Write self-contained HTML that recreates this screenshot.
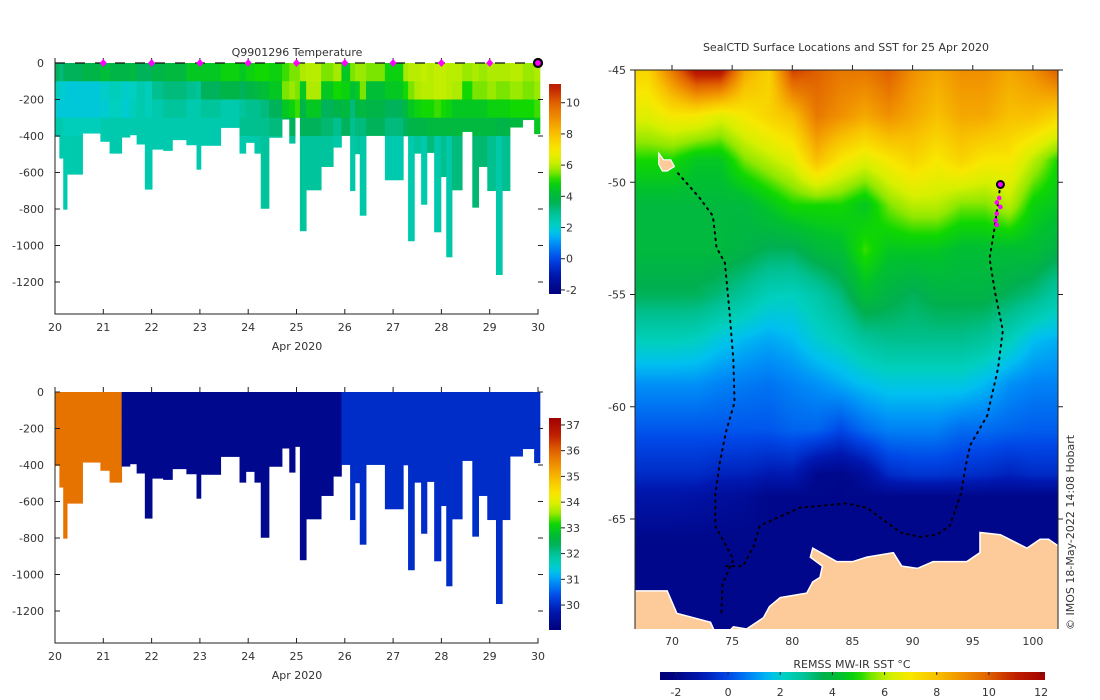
<!DOCTYPE html>
<html><head><meta charset="utf-8">
<style>
html,body{margin:0;padding:0;background:#fff;}
#wrap{position:relative;width:1100px;height:700px;overflow:hidden;}
#sstcanvas{position:absolute;left:635px;top:70px;}
svg{position:absolute;left:0;top:0;display:block;font-family:"DejaVu Sans","Liberation Sans",sans-serif;}
text{fill:#333;font-size:11px;}
</style></head>
<body>
<div id="wrap">
<canvas id="sstcanvas" width="423" height="559"></canvas>
<svg id="root" width="1100" height="700" viewBox="0 0 1100 700" xmlns="http://www.w3.org/2000/svg">
<defs>
<clipPath id="mapclip"><rect x="635" y="70" width="423" height="559"/></clipPath>
<linearGradient id="cbTop" x1="0" y1="1" x2="0" y2="0"></linearGradient>
<linearGradient id="cbBot" x1="0" y1="1" x2="0" y2="0"></linearGradient>
<linearGradient id="cbMap" x1="0" y1="0" x2="1" y2="0"></linearGradient>
</defs>
<g id="top"></g>
<g id="bot"></g>
<g id="map"></g>
</svg>
</div>
<script>
// ---------- Section data ----------
const profTime=[20.00,20.09,20.17,20.25,20.57,20.94,21.13,21.38,21.55,21.69,21.86,22.01,22.24,22.43,22.72,22.93,23.02,23.43,23.82,23.95,24.13,24.26,24.43,24.70,24.85,24.97,25.07,25.20,25.51,25.76,25.93,26.11,26.21,26.31,26.44,26.83,27.21,27.31,27.44,27.58,27.70,27.85,27.99,28.10,28.22,28.43,28.64,28.77,28.95,29.13,29.26,29.42,29.68,29.92];
const profDepth=[403,522,802,610,385,430,495,407,394,445,692,473,480,421,449,583,452,354,495,436,495,797,408,308,440,299,920,696,568,462,398,700,498,835,398,641,400,975,495,775,491,926,623,1063,696,376,791,568,700,1160,700,352,311,388];
const temp0=[3.5,3.2,3.5,3.5,3.8,4.2,3.8,3.8,4.0,3.5,3.5,3.8,4.0,4.0,4.5,4.5,4.5,4.8,4.5,4.8,5.0,5.0,4.8,5.2,5.5,5.5,5.9,6.0,5.5,5.8,4.5,5.5,5.7,5.7,5.5,4.8,5.8,6.0,6.0,6.1,6.0,6.1,6.1,6.0,6.0,5.7,5.9,5.7,5.9,5.9,5.9,6.0,5.7,5.9];
const temp1=[2.3,2.0,2.0,1.9,1.9,2.1,2.3,2.1,2.2,2.5,2.3,3.0,3.2,3.2,3.0,2.8,3.5,3.8,3.5,3.8,4.0,4.2,4.5,5.5,5.7,5.5,4.5,5.9,4.5,5.0,4.8,4.2,4.5,5.5,4.2,4.5,5.0,5.5,5.9,6.0,6.0,6.1,6.1,6.0,5.9,5.0,5.5,5.5,5.7,5.5,5.5,5.7,5.5,5.7];
const temp2=[2.0,1.9,1.9,1.9,1.9,2.0,2.2,2.0,2.3,2.5,2.3,2.5,2.8,2.8,2.5,2.5,2.8,2.5,2.8,3.0,3.0,3.2,3.5,4.5,4.8,5.2,3.8,4.5,3.5,3.8,4.0,3.2,3.8,4.0,3.8,3.5,4.0,4.5,4.8,5.0,5.0,5.2,5.0,4.8,4.5,4.5,4.5,4.5,4.8,4.8,4.8,5.0,5.0,5.2];
const temp3=[2.5,2.5,2.3,2.3,2.3,2.5,2.5,2.5,2.5,2.5,2.5,2.5,2.5,2.5,2.5,2.5,2.5,2.5,3.0,3.0,3.0,3.0,3.2,3.5,3.5,3.5,3.5,3.5,3.3,3.0,3.5,3.0,3.2,3.2,3.5,3.2,3.5,3.8,3.8,3.8,4.0,4.0,4.0,4.0,4.0,4.0,4.0,4.0,4.0,3.8,3.8,4.0,4.2,4.5];
const tempDeep=[2.5,2.5,2.5,2.5,2.5,2.5,2.5,2.5,2.5,2.5,2.5,2.5,2.5,2.5,2.5,2.5,2.5,2.5,2.5,2.5,2.6,2.8,2.8,2.8,2.8,2.8,2.8,2.8,2.8,2.6,2.8,2.6,2.8,2.6,2.8,2.5,2.8,2.5,2.8,2.5,3.2,2.6,3.0,2.6,3.2,3.3,3.3,3.3,3.0,2.6,3.0,3.2,3.5,3.5];
const salinity=[35.8,35.8,35.8,35.8,35.8,35.8,35.8,29.3,29.3,29.3,29.3,29.3,29.3,29.3,29.3,29.3,29.3,29.3,29.3,29.3,29.3,29.3,29.3,29.3,29.3,29.3,29.3,29.3,29.3,29.3,30.0,30.0,30.0,30.0,30.0,30.0,30.0,30.0,30.0,30.0,30.0,30.0,30.0,30.0,30.0,30.0,30.0,30.0,30.0,30.0,30.0,30.0,30.0,30.0];
const markerDays=[21,22,23,24,25,26,27,28,29];
const dayTicks=[20,21,22,23,24,25,26,27,28,29,30];
const depthTicks=[0,200,400,600,800,1000,1200];
const tempCbTicks=[10,8,6,4,2,0,-2];
const salCbTicks=[37,36,35,34,33,32,31,30];

// ---------- Map data ----------
const sstLons=[68,70,72,74,76,78,80,82,84,86,88,90,92,94,96,98,100,102];
const sstLats=[-45,-47,-49,-51,-53,-55,-57,-59,-61,-63,-64,-66,-68,-70];
const sst=[
[7.5,9.5,11.5,11.5,8.5,7.5,10.5,10,9.5,9.5,10,9,8.5,9,9,8.5,9,10],
[6.5,7,7,6.5,7,7.5,8,9.5,9,8.5,9,8.5,8,8.5,8.5,8,8,7.5],
[5,5,4.5,4.5,5.5,6,6.5,8,7,6.5,7,7.5,7,7.5,7,7,6,5],
[4,4,4,4,4,4.5,5,5,5,4.5,5.5,6,6,5.5,5.5,6,4.8,4.5],
[4,4,4,4,3.8,3.5,3.5,4,4.2,5.2,4.5,4.5,4.5,4.2,4.2,4.2,4.2,3.8],
[3.5,3.5,3.5,3.2,2.8,2.3,2.2,2.6,3.2,4.2,3.8,3.5,3.8,3.8,3.8,3.5,3.2,2.6],
[2.3,2.3,2.2,1.8,1.5,1.3,1.5,2,2.3,2.8,3,3,3,3,2.8,2.3,1.6,1.4],
[1,1,1,0.8,0.7,0.6,0.8,1,1.3,1.6,1.8,1.8,1.8,1.8,1.5,1,0.8,0.8],
[0.2,0.2,0.2,0.2,0.2,0.2,0.4,0.4,0,0.5,0.8,0.8,0.8,0.5,0.5,0.4,0.3,0.3],
[-0.6,-0.6,-0.6,-0.8,-0.8,-1,-1,-1.8,-1.9,-1.5,-0.6,-0.4,-0.4,-0.5,-0.6,-0.8,-0.6,-0.6],
[-1.2,-1.2,-1.3,-1.5,-1.6,-1.9,-1.9,-1.9,-1.9,-1.9,-1.9,-1.9,-1.9,-1.9,-1.9,-1.9,-1.9,-1.9],
[-1.9,-1.9,-1.9,-1.9,-1.9,-1.9,-1.9,-1.9,-1.9,-1.9,-1.9,-1.9,-1.9,-1.9,-1.9,-1.9,-1.9,-1.9],
[-1.9,-1.9,-1.9,-1.9,-1.9,-1.9,-1.9,-1.9,-1.9,-1.9,-1.9,-1.9,-1.9,-1.9,-1.9,-1.9,-1.9,-1.9],
[-1.9,-1.9,-1.9,-1.9,-1.9,-1.9,-1.9,-1.9,-1.9,-1.9,-1.9,-1.9,-1.9,-1.9,-1.9,-1.9,-1.9,-1.9]];
const trackWestLon=[70.5,72.3,73.4,73.7,74.4,74.8,75.1,75.2,74.5,74.0,73.6,73.6,75.1,74.2,74.1];
const trackWestLat=[-49.6,-50.7,-51.5,-52.9,-53.6,-55.9,-57.9,-59.8,-61.1,-62.4,-63.9,-65.3,-66.8,-67.9,-69.2];
const trackEastLon=[97.3,96.85,96.4,96.85,97.5,97.1,96.2,94.8,94.5,94.0,93.1,92.0,90.6,89.0,86.2,84.5,80.6,77.3,76.8,75.9,74.5];
const trackEastLat=[-50.1,-51.9,-53.4,-54.9,-56.6,-58.3,-60.4,-61.7,-62.4,-63.9,-65.3,-65.7,-65.8,-65.6,-64.5,-64.3,-64.5,-65.3,-66.2,-67.1,-67.1];
const recentLon=[97.2,97.0,97.3,97.0,96.9,97.0];
const recentLat=[-50.7,-50.9,-51.1,-51.4,-51.7,-51.9];
const landLon=[66.9,69.6,70.0,70.4,73.2,73.7,74.6,75.1,76.2,77.6,78.1,79.0,81.2,81.7,82.3,82.5,81.5,81.7,83.7,85.0,86.2,88.4,89.1,90.4,91.7,94.5,95.6,95.6,97.3,99.5,100.6,101.3,102.1,102.1,66.9];
const landLat=[-68.2,-68.2,-68.7,-69.2,-69.6,-70.2,-70.1,-69.8,-69.9,-69.4,-68.9,-68.5,-68.3,-67.8,-67.6,-67.1,-66.7,-66.3,-66.9,-66.9,-66.7,-66.5,-67.1,-67.2,-66.9,-66.9,-66.5,-65.6,-65.7,-66.3,-65.9,-65.9,-66.2,-69.95,-69.95];
const kergLon=[68.9,69.3,69.9,70.2,69.6,69.2,68.9];
const kergLat=[-48.7,-49.0,-49.0,-49.3,-49.5,-49.5,-49.2];
const lonTicks=[70,75,80,85,90,95,100];
const latTicks=[-45,-50,-55,-60,-65];
const mapCbTicks=[-2,0,2,4,6,8,10,12];

// ---------- helpers ----------
const NS='http://www.w3.org/2000/svg';
function mk(tag,attrs,parent){const e=document.createElementNS(NS,tag);for(const k in attrs)e.setAttribute(k,attrs[k]);parent.appendChild(e);return e;}
const stops=[[-2.3,[0,0,122]],[-1,[0,24,176]],[0,[0,72,232]],[1,[0,144,248]],[1.6,[0,192,240]],[2.2,[0,208,192]],[3,[0,192,144]],[3.6,[0,176,80]],[4.3,[0,192,48]],[5,[16,216,0]],[5.6,[144,232,0]],[6.3,[216,240,0]],[7,[248,232,0]],[8,[248,192,0]],[9,[240,144,0]],[10,[224,96,0]],[11,[192,32,0]],[12.2,[160,0,0]]];
function cmapArr(v){
  if(v<=stops[0][0])return stops[0][1];
  for(let i=1;i<stops.length;i++){if(v<=stops[i][0]){const a=stops[i-1],b=stops[i];const t=(v-a[0])/(b[0]-a[0]);return a[1].map((c,j)=>c+(b[1][j]-c)*t);}}
  return stops[stops.length-1][1];
}
function cmap(v){return 'rgb('+cmapArr(v).map(x=>Math.round(x)).join(',')+')';}
function salToT(s){return -2.3+(s-29.03)/(37.27-29.03)*14.5;}

function fillGrad(id,vmin,vmax,fn){
  const g=document.getElementById(id);
  for(let i=0;i<=40;i++){const v=vmin+(vmax-vmin)*i/40;mk('stop',{offset:(i/40),'stop-color':cmap(fn(v))},g);}
}
fillGrad('cbTop',-2.26,11.2,v=>v);
fillGrad('cbBot',29.03,37.27,salToT);
fillGrad('cbMap',-2.61,12.15,v=>v);

// ---------- section plot ----------
function section(gid,y0,valueFn,cbGrad,cbTop,cbBot,cbMin,cbMax,cbTicks,isTemp){
  const g=document.getElementById(gid);
  const X=d=>55+(d-20)*48.3;
  const Y=z=>y0+z*0.1825;
  const bands=[0,100,200,300,400];
  for(let i=0;i<profTime.length;i++){
    const x0=X(profTime[i]);const x1=i<profTime.length-1?X(profTime[i+1]):X(30.04);
    const vals=valueFn(i);
    for(let b=0;b<5;b++){
      const top=bands[b];if(top>=profDepth[i])break;
      const bot=b<4?Math.min(bands[b+1],profDepth[i]):profDepth[i];
      const r=mk('rect',{x:x0.toFixed(2),y:Y(top).toFixed(2),width:(x1-x0+0.4).toFixed(2),height:(Y(bot)-Y(top)+0.3).toFixed(2),fill:cmap(vals[b])},g);
      
      
    }
  }
  const ax=mk('path',{d:`M55,${y0-5}V${y0+251}H538.5`,stroke:'#222',fill:'none','stroke-width':1},g);
  
  dayTicks.forEach(d=>{
    mk('line',{x1:X(d),x2:X(d),y1:y0+251,y2:y0+246,stroke:'#222'},g);
    mk('line',{x1:X(d),x2:X(d),y1:y0-5,y2:y0,stroke:'#222'},g);
    const t=mk('text',{x:X(d),y:y0+268,'text-anchor':'middle'},g);t.textContent=d;
    
  });
  depthTicks.forEach(z=>{
    mk('line',{x1:55,x2:60,y1:Y(z),y2:Y(z),stroke:'#222'},g);
    mk('line',{x1:538,x2:543,y1:Y(z),y2:Y(z),stroke:'#222'},g);
    const t=mk('text',{x:44,y:Y(z)+4,'text-anchor':'end'},g);t.textContent=z===0?'0':'-'+z;
    
  });
  const xl=mk('text',{x:297,y:y0+287,'text-anchor':'middle'},g);xl.textContent='Apr 2020';
  
  const cb=mk('rect',{x:549,y:cbTop,width:12,height:cbBot-cbTop,fill:'url(#'+cbGrad+')'},g);
  
  cbTicks.forEach(v=>{
    const yy=cbBot-(v-cbMin)/(cbMax-cbMin)*(cbBot-cbTop);
    mk('line',{x1:561,x2:565,y1:yy,y2:yy,stroke:'#222'},g);
    const t=mk('text',{x:566,y:yy+4},g);t.textContent=v;
    
  });
  if(isTemp){
    mk('line',{x1:55,x2:538,y1:y0,y2:y0,stroke:'#111','stroke-dasharray':'10 10','stroke-width':1.2},g);
    markerDays.forEach(d=>{
      const m=mk('path',{d:`M${X(d)},${y0-4}L${X(d)+3.5},${y0}L${X(d)},${y0+4}L${X(d)-3.5},${y0}Z`,fill:'#ff00ff'},g);
      
    });
    const c=mk('circle',{cx:X(30),cy:y0,r:4,fill:'#ff00ff',stroke:'#000','stroke-width':2.2},g);
    
    const tt=mk('text',{x:297,y:y0-7,'text-anchor':'middle','font-size':12,fill:'#111'},g);tt.textContent='Q9901296  Temperature';
    
  }
}
section('top',63,i=>[temp0[i],temp1[i],temp2[i],temp3[i],tempDeep[i]],'cbTop',84,294,-2.26,11.2,tempCbTicks,true);
section('bot',392,i=>{const v=salToT(salinity[i]);return [v,v,v,v,v];},'cbBot',418,630,29.03,37.27,salCbTicks,false);

// ---------- map ----------
(function(){
  const LX=l=>672+(l-70)*12.03;
  const LY=a=>70+(-45-a)*22.45;
  // SST field: bilinear interpolation of grid onto canvas
  const cv=document.getElementById('sstcanvas');const ctx=cv.getContext('2d');
  const img=ctx.createImageData(cv.width,cv.height);
  function lerpIdx(arr,v){ // arr monotonic; returns [i,t]
    const asc=arr[1]>arr[0];
    for(let i=0;i<arr.length-1;i++){
      const a=arr[i],b=arr[i+1];
      if(asc?(v<=b):(v>=b)){const t=Math.max(0,Math.min(1,(v-a)/(b-a)));return [i,t];}
    }
    return [arr.length-2,1];
  }
  for(let py=0;py<cv.height;py++){
    const lat=-45-(py+70-70)/22.45;
    const [ri,rt]=lerpIdx(sstLats,lat);
    for(let px=0;px<cv.width;px++){
      const lon=70+(px+635-672)/12.03;
      const [ci,ct]=lerpIdx(sstLons,lon);
      const v=(sst[ri][ci]*(1-ct)+sst[ri][ci+1]*ct)*(1-rt)+(sst[ri+1][ci]*(1-ct)+sst[ri+1][ci+1]*ct)*rt;
      const c=cmapArr(v);const k=(py*cv.width+px)*4;
      img.data[k]=c[0];img.data[k+1]=c[1];img.data[k+2]=c[2];img.data[k+3]=255;
    }
  }
  ctx.putImageData(img,0,0);

  const g=document.getElementById('map');
  const clipped=mk('g',{'clip-path':'url(#mapclip)'},g);
  const land=mk('polygon',{points:landLon.map((l,i)=>LX(l)+','+LY(landLat[i])).join(' '),fill:'#fdcb99',stroke:'#fff','stroke-width':1.5},clipped);
  
  const ker=mk('polygon',{points:kergLon.map((l,i)=>LX(l)+','+LY(kergLat[i])).join(' '),fill:'#fdcb99',stroke:'#fff','stroke-width':1.2},clipped);
  
  [[trackWestLon,trackWestLat,'track-west'],[trackEastLon,trackEastLat,'track-east']].forEach(t=>{
    const p=mk('polyline',{points:t[0].map((l,i)=>LX(l)+','+LY(t[1][i])).join(' '),fill:'none',stroke:'#000','stroke-width':2,'stroke-dasharray':'1.5 5','stroke-linecap':'round'},clipped);
    
  });
  recentLon.forEach((l,i)=>{
    const d=mk('circle',{cx:LX(l),cy:LY(recentLat[i]),r:2.3,fill:'#ff00ff'},clipped);
    
  });
  const cur=mk('circle',{cx:LX(97.3),cy:LY(-50.1),r:3.5,fill:'#ff00ff',stroke:'#000','stroke-width':2},clipped);
  
  const fr=mk('path',{d:'M635,70V629M635,70H1058V629',stroke:'#222',fill:'none'},g);
  
  lonTicks.forEach(l=>{
    mk('line',{x1:LX(l),x2:LX(l),y1:70,y2:65,stroke:'#222'},g);
    const t=mk('text',{x:LX(l),y:645,'text-anchor':'middle'},g);t.textContent=l;
    
  });
  latTicks.forEach(a=>{
    mk('line',{x1:630,x2:635,y1:LY(a),y2:LY(a),stroke:'#222'},g);
    mk('line',{x1:1058,x2:1063,y1:LY(a),y2:LY(a),stroke:'#222'},g);
    const t=mk('text',{x:626,y:LY(a)+4,'text-anchor':'end'},g);t.textContent=a;
    
  });
  const tt=mk('text',{x:846,y:51,'text-anchor':'middle','font-size':11,fill:'#111'},g);tt.textContent='SealCTD Surface Locations and SST for 25 Apr 2020';
  
  const cr=mk('text',{x:0,y:0,'font-size':10,transform:'translate(1074,630) rotate(-90)'},g);cr.textContent='© IMOS 18-May-2022 14:08 Hobart';
  
  const cbl=mk('text',{x:852,y:668,'text-anchor':'middle'},g);cbl.textContent='REMSS MW-IR SST °C';
  
  const cb=mk('rect',{x:660,y:672,width:385,height:8,fill:'url(#cbMap)'},g);
  
  mapCbTicks.forEach(v=>{
    const xx=660+(v+2.61)/(12.15+2.61)*385;
    mk('line',{x1:xx,x2:xx,y1:672,y2:675,stroke:'#222'},g);
    const t=mk('text',{x:xx,y:696,'text-anchor':'middle'},g);t.textContent=v;
    
  });
})();
</script>
</body></html>
